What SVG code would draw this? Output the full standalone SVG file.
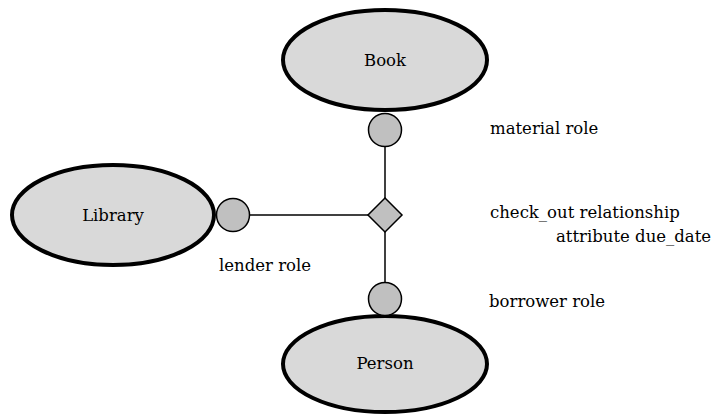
<svg xmlns="http://www.w3.org/2000/svg" width="712" height="415" viewBox="0 0 712 415">
<style>
.ent{fill:#d9d9d9;stroke:#000;stroke-width:4}
.role{fill:#c0c0c0;stroke:#000;stroke-width:1.5}
.rel{fill:#c0c0c0;stroke:#000;stroke-width:1.5}
.ln{stroke:#000;stroke-width:1.5;fill:none}
text{font-family:"DejaVu Serif","Liberation Serif",serif;font-size:16.5px;fill:#000}
.c{text-anchor:middle}
</style>
<rect width="712" height="415" fill="#fff"/>
<g id="connectors">
<line class="ln" x1="385" y1="146" x2="385" y2="198"/>
<line class="ln" x1="249" y1="215" x2="368" y2="215"/>
<line class="ln" x1="385" y1="232" x2="385" y2="282"/>
</g>
<g id="book"><ellipse class="ent" cx="385" cy="60" rx="102" ry="50"/><text class="c" x="385" y="66">Book</text></g>
<g id="library"><ellipse class="ent" cx="113" cy="215" rx="101" ry="50"/><text class="c" x="113" y="221">Library</text></g>
<g id="person"><ellipse class="ent" cx="385" cy="364" rx="102" ry="48"/><text class="c" x="385" y="369">Person</text></g>
<g id="material-role"><circle class="role" cx="385" cy="130" r="16.5"/><text x="490" y="134">material role</text></g>
<g id="lender-role"><circle class="role" cx="233" cy="215" r="16.5"/><text x="219" y="271">lender role</text></g>
<g id="borrower-role"><circle class="role" cx="385" cy="299" r="16.5"/><text x="489" y="307">borrower role</text></g>
<g id="check-out"><polygon class="rel" points="385,198 402,215 385,232 368,215"/><text x="490" y="218">check_out relationship</text><text x="556" y="242">attribute due_date</text></g>
</svg>
